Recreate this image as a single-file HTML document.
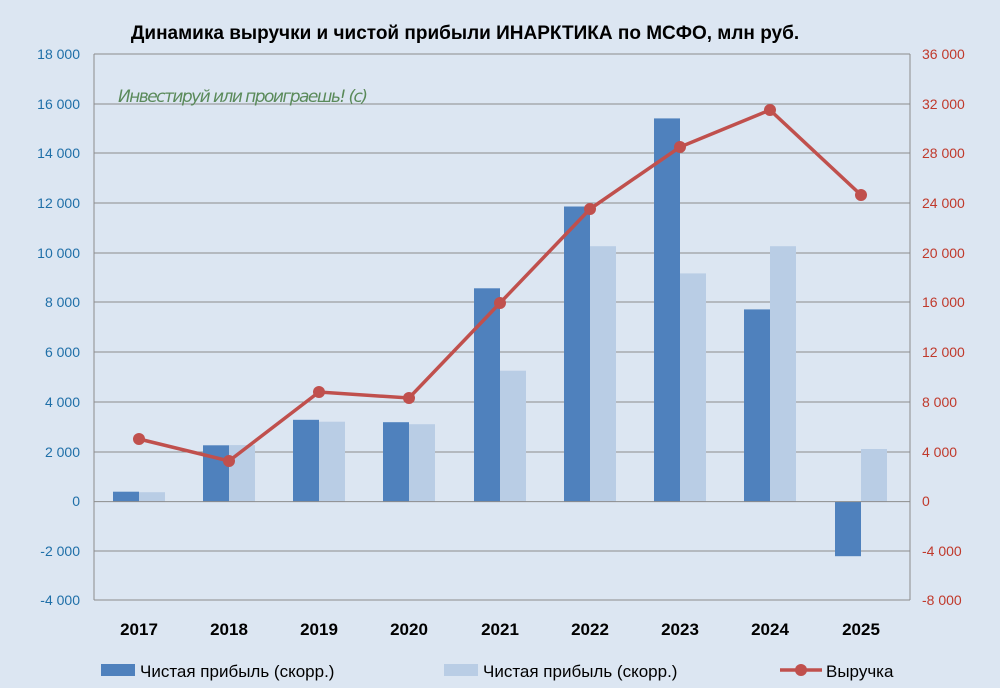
<!DOCTYPE html><html><head><meta charset="utf-8"><style>body{margin:0}svg{display:block}</style></head><body>
<svg width="1000" height="688" xmlns="http://www.w3.org/2000/svg" font-family="Liberation Sans, sans-serif">
<rect width="1000" height="688" fill="#dce6f2"/>
<text x="465" y="39" text-anchor="middle" font-size="19" font-weight="bold" fill="#000">Динамика выручки и чистой прибыли ИНАРКТИКА по МСФО, млн руб.</text>
<g stroke="#8c8c8c" stroke-width="1">
<line x1="94" x2="910" y1="54" y2="54"/><line x1="94" x2="910" y1="104" y2="104"/><line x1="94" x2="910" y1="153" y2="153"/><line x1="94" x2="910" y1="203" y2="203"/><line x1="94" x2="910" y1="253" y2="253"/><line x1="94" x2="910" y1="302" y2="302"/><line x1="94" x2="910" y1="352" y2="352"/><line x1="94" x2="910" y1="402" y2="402"/><line x1="94" x2="910" y1="452" y2="452"/><line x1="94" x2="910" y1="551" y2="551"/><line x1="94" x2="910" y1="600" y2="600"/>
<line x1="94" x2="94" y1="54" y2="600"/><line x1="910" x2="910" y1="54" y2="600"/>
</g>
<text x="118" y="102" font-size="17" fill="#5a8a5a" font-family="DejaVu Sans, sans-serif" font-style="italic" textLength="250">Инвестируй или проиграешь! (с)</text>
<g font-size="14" fill="#1f6fa8" text-anchor="end">
<text x="80" y="59">18 000</text><text x="80" y="109">16 000</text><text x="80" y="158">14 000</text><text x="80" y="208">12 000</text><text x="80" y="258">10 000</text><text x="80" y="307">8 000</text><text x="80" y="357">6 000</text><text x="80" y="407">4 000</text><text x="80" y="457">2 000</text><text x="80" y="506">0</text><text x="80" y="556">-2 000</text><text x="80" y="605">-4 000</text>
</g>
<g font-size="14" fill="#c0392b" text-anchor="start">
<text x="922" y="59">36 000</text><text x="922" y="109">32 000</text><text x="922" y="158">28 000</text><text x="922" y="208">24 000</text><text x="922" y="258">20 000</text><text x="922" y="307">16 000</text><text x="922" y="357">12 000</text><text x="922" y="407">8 000</text><text x="922" y="457">4 000</text><text x="922" y="506">0</text><text x="922" y="556">-4 000</text><text x="922" y="605">-8 000</text>
</g>
<g fill="#4f81bd">
<rect x="113" y="491.7" width="26" height="9.9"/><rect x="203" y="445.3" width="26" height="56.3"/><rect x="293" y="419.8" width="26" height="81.8"/><rect x="383" y="422.2" width="26" height="79.4"/><rect x="474" y="288.3" width="26" height="213.3"/><rect x="564" y="206.5" width="26" height="295.1"/><rect x="654" y="118.4" width="26" height="383.2"/><rect x="744" y="309.4" width="26" height="192.2"/><rect x="835" y="501.6" width="26" height="54.6"/>
</g>
<g fill="#b9cde5">
<rect x="139" y="492.2" width="26" height="9.4"/><rect x="229" y="445.1" width="26" height="56.5"/><rect x="319" y="421.7" width="26" height="79.9"/><rect x="409" y="424.2" width="26" height="77.4"/><rect x="500" y="370.7" width="26" height="130.9"/><rect x="590" y="246.2" width="26" height="255.4"/><rect x="680" y="273.4" width="26" height="228.2"/><rect x="770" y="246.2" width="26" height="255.4"/><rect x="861" y="449" width="26" height="52.6"/>
</g>
<line x1="94" x2="910" y1="501.6" y2="501.6" stroke="#8c8c8c"/>
<polyline fill="none" stroke="#c0504d" stroke-width="3.5" points="139,439 229,461 319,392 409,398 500,303 590,209 680,147 770,110 861,195"/>
<g fill="#c0504d">
<circle cx="139" cy="439" r="6"/><circle cx="229" cy="461" r="6"/><circle cx="319" cy="392" r="6"/><circle cx="409" cy="398" r="6"/><circle cx="500" cy="303" r="6"/><circle cx="590" cy="209" r="6"/><circle cx="680" cy="147" r="6"/><circle cx="770" cy="110" r="6"/><circle cx="861" cy="195" r="6"/>
</g>
<g font-size="17" font-weight="bold" text-anchor="middle" fill="#000">
<text x="139" y="635">2017</text><text x="229" y="635">2018</text><text x="319" y="635">2019</text><text x="409" y="635">2020</text><text x="500" y="635">2021</text><text x="590" y="635">2022</text><text x="680" y="635">2023</text><text x="770" y="635">2024</text><text x="861" y="635">2025</text>
</g>
<rect x="101" y="664" width="34" height="12" fill="#4f81bd"/>
<text x="140" y="677" font-size="17" fill="#000">Чистая прибыль (скорр.)</text>
<rect x="444" y="664" width="34" height="12" fill="#b9cde5"/>
<text x="483" y="677" font-size="17" fill="#000">Чистая прибыль (скорр.)</text>
<line x1="780" x2="822" y1="670" y2="670" stroke="#c0504d" stroke-width="3.5"/><circle cx="801" cy="670" r="6" fill="#c0504d"/>
<text x="826" y="677" font-size="17" fill="#000">Выручка</text>
</svg>
</body></html>
